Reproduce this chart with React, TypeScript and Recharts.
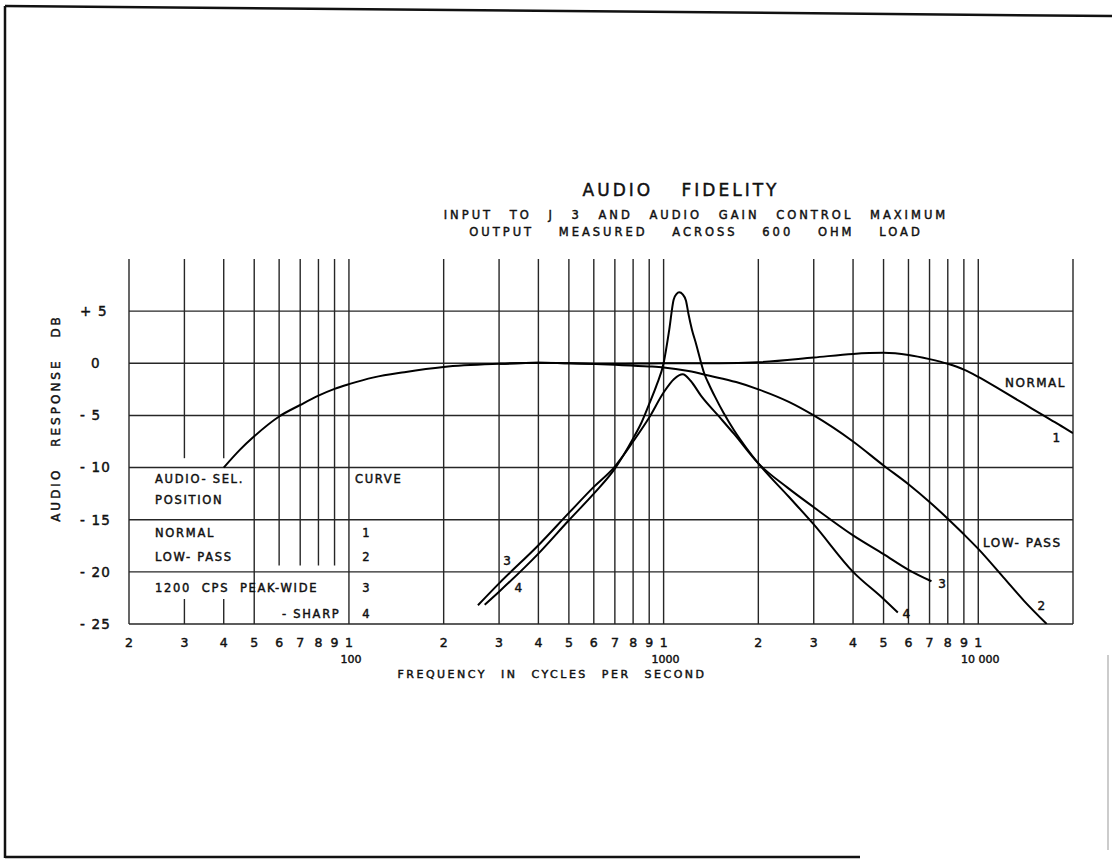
import React from 'react';
import { LineChart, Line, XAxis, YAxis, ReferenceLine, ReferenceDot } from 'recharts';

const FONT = '"DejaVu Sans", "Liberation Sans", Arial, sans-serif';
const INK = '#111';
const GRID = '#262626';
const TEXT_STROKE = 0.45;

// ---- curve data: [frequency in c/s, response in dB] ----
const normalCurve: [number, number][] = [
  [40, -10], [45, -8.3], [50, -7.0], [60, -5.1], [70, -4.0], [80, -3.1], [90, -2.45],
  [100, -2.0], [120, -1.35], [150, -0.85], [200, -0.35], [300, -0.05], [400, 0.05],
  [500, 0], [700, -0.05], [1000, 0], [1500, 0], [2000, 0.1], [3000, 0.55], [4000, 0.9],
  [5000, 1.0], [6000, 0.8], [7000, 0.4], [8000, -0.05], [9000, -0.6], [10000, -1.3],
  [12000, -2.7], [14000, -3.9], [16000, -4.95], [18000, -5.85], [20000, -6.7],
];
const lowPassCurve: [number, number][] = [
  [300, -0.05], [400, 0.05], [500, 0], [700, -0.15], [900, -0.3], [1000, -0.4],
  [1200, -0.75], [1400, -1.2], [1700, -1.8], [2000, -2.5], [2500, -3.7], [3000, -5.0],
  [4000, -7.5], [5000, -9.8], [6000, -11.6], [7000, -13.3], [8000, -14.9], [9000, -16.4],
  [10000, -17.8], [12000, -20.5], [14000, -22.8], [16500, -25],
];
const peakWideCurve: [number, number][] = [
  [257, -23.2], [300, -21.1], [400, -17.45], [500, -14.35], [600, -11.85], [700, -9.9],
  [800, -7.5], [900, -5.2], [1000, -2.8], [1080, -1.5], [1150, -1.05], [1220, -1.7],
  [1314, -3.1], [1500, -5.1], [1677, -6.8], [2000, -9.6], [2470, -11.9], [3000, -13.8],
  [4000, -16.5], [5000, -18.3], [6000, -19.8], [7100, -20.9],
];
const peakSharpCurve: [number, number][] = [
  [270, -23.15], [300, -21.9], [400, -18.25], [500, -15.05], [600, -12.5], [700, -10.1],
  [800, -7.2], [850, -5.7], [900, -3.9], [950, -2.1], [1000, 0], [1042, 3.2], [1076, 6.1],
  [1100, 6.65], [1121, 6.8], [1150, 6.6], [1178, 6.0], [1200, 4.7], [1230, 3.25],
  [1267, 1.9], [1347, -1.0], [1400, -2.15], [1456, -3.2], [1550, -4.75], [1680, -6.5],
  [1830, -8.1], [2000, -9.6], [2500, -12.8], [3000, -15.45], [4000, -20], [5000, -22.6],
  [5550, -23.9],
];

// ---- axes ----
const xTicks = [20, 30, 40, 50, 60, 70, 80, 90, 100, 200, 300, 400, 500, 600, 700, 800, 900,
  1000, 2000, 3000, 4000, 5000, 6000, 7000, 8000, 9000, 10000];
const decadeLabels: Record<number, string> = { 100: '100', 1000: '1000', 10000: '10 000' };
const yTicks = [-25, -20, -15, -10, -5, 0, 5];
const yTickLabels: Record<number, string> = {
  5: '+ 5', 0: '0', [-5]: '- 5', [-10]: '- 10', [-15]: '- 15', [-20]: '- 20', [-25]: '- 25',
};

// ---- grid ----
const fullGridFreqs = [20, 50, 100, 200, 300, 400, 500, 600, 700, 800, 900, 1000, 2000, 3000,
  4000, 5000, 6000, 7000, 8000, 9000, 10000, 20000];
const splitGridFreqs = [30, 40];
const shortGridFreqs = [60, 70, 80, 90];
const gridDb = [5, 0, -5, -10, -15, -20, -25];

// ---- text annotations (anchored in data units) ----
type Anno = { f: number; db: number; text: string; anchor: 'start' | 'middle' };
const curveLabels: Anno[] = [
  { f: 12160, db: -1.9, text: 'NORMAL', anchor: 'start' },
  { f: 17790, db: -7.1, text: '1', anchor: 'middle' },
  { f: 10350, db: -17.2, text: 'LOW- PASS', anchor: 'start' },
  { f: 15940, db: -23.2, text: '2', anchor: 'middle' },
  { f: 7720, db: -21.1, text: '3', anchor: 'middle' },
  { f: 5940, db: -24.0, text: '4', anchor: 'middle' },
  { f: 320, db: -18.9, text: '3', anchor: 'middle' },
  { f: 347, db: -21.5, text: '4', anchor: 'middle' },
];
const tableLabels: Anno[] = [
  { f: 24.2, db: -11.1, text: 'AUDIO- SEL.', anchor: 'start' },
  { f: 24.2, db: -13.1, text: 'POSITION', anchor: 'start' },
  { f: 24.2, db: -16.3, text: 'NORMAL', anchor: 'start' },
  { f: 24.2, db: -18.6, text: 'LOW- PASS', anchor: 'start' },
  { f: 24.2, db: -21.5, text: '1200  CPS  PEAK-WIDE', anchor: 'start' },
  { f: 61.3, db: -24.0, text: '- SHARP', anchor: 'start' },
  { f: 104.5, db: -11.1, text: 'CURVE', anchor: 'start' },
  { f: 114, db: -16.3, text: '1', anchor: 'middle' },
  { f: 114, db: -18.6, text: '2', anchor: 'middle' },
  { f: 114, db: -21.5, text: '3', anchor: 'middle' },
  { f: 114, db: -24.0, text: '4', anchor: 'middle' },
];

const toPoints = (arr: [number, number][]) => arr.map(([f, db]) => ({ f, db }));

const svgText = { fontFamily: FONT, fill: INK, stroke: INK, strokeWidth: TEXT_STROKE };

const XTick = (props: any) => {
  const { x, y, payload } = props;
  const v = payload.value as number;
  const lead = String(v)[0];
  const dec = decadeLabels[v];
  return (
    <g>
      <text x={x} y={y + 21} textAnchor="middle" fontSize={12.5} {...svgText}>{lead}</text>
      {dec && (
        <text x={x + 2} y={y + 37} textAnchor="middle" fontSize={11} {...svgText}
          style={{ whiteSpace: 'pre' }}>{dec}</text>
      )}
    </g>
  );
};

const YTick = (props: any) => {
  const { x, y, payload } = props;
  const v = payload.value as number;
  const label = yTickLabels[v];
  const startX = v === 0 ? x - 36 : x - 47;
  return (
    <text x={startX} y={y} dy="0.36em" textAnchor="start" fontSize={13.5} {...svgText}
      letterSpacing={1.2} style={{ whiteSpace: 'pre' }}>{label}</text>
  );
};

const annoShape = (a: Anno, size: number, spacing: number) => (p: any) => (
  <text x={p.cx} y={p.cy} dy="0.36em" textAnchor={a.anchor} fontSize={size} {...svgText}
    letterSpacing={spacing} style={{ whiteSpace: 'pre' }}>{a.text}</text>
);

const textStyle: React.CSSProperties = {
  position: 'absolute', fontFamily: FONT, color: INK, whiteSpace: 'pre', lineHeight: 1,
  textAlign: 'center', WebkitTextStroke: `${TEXT_STROKE}px ${INK}`,
};

export default function App() {
  return (
    <div style={{ position: 'absolute', left: 0, top: 0, width: 1112, height: 861, background: '#fff', overflow: 'hidden' }}>
      <LineChart width={1112} height={861} margin={{ top: 259, right: 39, bottom: 197, left: 69 }}>
        <XAxis dataKey="f" type="number" scale="log" domain={[20, 20000]} allowDataOverflow
          ticks={xTicks} interval={0} tickLine={false} axisLine={false} tickSize={0} height={40}
          tick={<XTick />} />
        <YAxis dataKey="db" type="number" domain={[-25, 10]} allowDataOverflow ticks={yTicks}
          interval={0} tickLine={false} axisLine={false} tickSize={0} width={60} tick={<YTick />} />

        {gridDb.map((d) => (
          <ReferenceLine key={'h' + d} y={d} stroke={GRID} strokeWidth={1.4} />
        ))}
        {fullGridFreqs.map((f) => (
          <ReferenceLine key={'v' + f} x={f} stroke={GRID} strokeWidth={1.4} />
        ))}
        {splitGridFreqs.map((f) => (
          <ReferenceLine key={'vt' + f} segment={[{ x: f, y: 10 }, { x: f, y: -9.1 }]} stroke={GRID} strokeWidth={1.4} />
        ))}
        {splitGridFreqs.map((f) => (
          <ReferenceLine key={'vb' + f} segment={[{ x: f, y: -22.6 }, { x: f, y: -25 }]} stroke={GRID} strokeWidth={1.4} />
        ))}
        {shortGridFreqs.map((f) => (
          <ReferenceLine key={'vs' + f} segment={[{ x: f, y: 10 }, { x: f, y: -19.4 }]} stroke={GRID} strokeWidth={1.4} />
        ))}

        <Line data={toPoints(normalCurve)} dataKey="db" type="monotone" stroke="#000" strokeWidth={2}
          dot={false} isAnimationActive={false} />
        <Line data={toPoints(lowPassCurve)} dataKey="db" type="monotone" stroke="#000" strokeWidth={2}
          dot={false} isAnimationActive={false} />
        <Line data={toPoints(peakWideCurve)} dataKey="db" type="monotone" stroke="#000" strokeWidth={2}
          dot={false} isAnimationActive={false} />
        <Line data={toPoints(peakSharpCurve)} dataKey="db" type="monotone" stroke="#000" strokeWidth={2}
          dot={false} isAnimationActive={false} />

        {curveLabels.map((a, i) => (
          <ReferenceDot key={'c' + i} x={a.f} y={a.db} r={2} shape={annoShape(a, 12, 1.5)} />
        ))}
        {tableLabels.map((a, i) => (
          <ReferenceDot key={'t' + i} x={a.f} y={a.db} r={2} shape={annoShape(a, 11.5, 1.7)} />
        ))}
      </LineChart>

      {/* titles */}
      <div style={{ ...textStyle, left: 481, width: 400, top: 182, fontSize: 17, letterSpacing: 3, wordSpacing: 20 }}>
        AUDIO FIDELITY
      </div>
      <div style={{ ...textStyle, left: 396, width: 600, top: 210, fontSize: 11.5, letterSpacing: 3, wordSpacing: 10 }}>
        INPUT TO J 3 AND AUDIO GAIN CONTROL MAXIMUM
      </div>
      <div style={{ ...textStyle, left: 396, width: 600, top: 227, fontSize: 11.5, letterSpacing: 3, wordSpacing: 18 }}>
        OUTPUT MEASURED ACROSS 600 OHM LOAD
      </div>
      <div style={{ ...textStyle, left: 352, width: 400, top: 669, fontSize: 11, letterSpacing: 2.5, wordSpacing: 8 }}>
        FREQUENCY IN CYCLES PER SECOND
      </div>
      <div style={{ ...textStyle, left: 56 - 150, width: 300, top: 418 - 6, fontSize: 12, letterSpacing: 3, wordSpacing: 14,
        transform: 'rotate(-90deg)', transformOrigin: '150px 6px' }}>
        AUDIO RESPONSE DB
      </div>

      {/* scanned page frame */}
      <svg width={1112} height={861} style={{ position: 'absolute', left: 0, top: 0, pointerEvents: 'none' }}>
        <line x1={5} y1={6} x2={5} y2={858} stroke="#111" strokeWidth={2.5} />
        <line x1={5} y1={6} x2={1112} y2={16} stroke="#111" strokeWidth={2.5} />
        <line x1={5} y1={857} x2={860} y2={857} stroke="#111" strokeWidth={2.5} />
        <line x1={1108} y1={655} x2={1108} y2={850} stroke="#999" strokeWidth={1} />
      </svg>
    </div>
  );
}
